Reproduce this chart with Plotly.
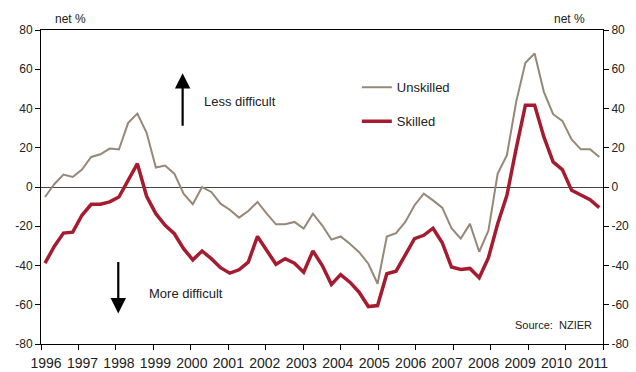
import plotly.graph_objects as go

# Quarterly survey, 1996Q1 .. 2011Q1 (net %)
quarter_index = list(range(61))
years = list(range(1996, 2012))
year_labels = [str(y) for y in years]

unskilled = [-5.1, 1.4, 6.3, 5.1, 8.9, 15.3, 16.7, 19.6, 19.1, 32.7,
             37.4, 27.6, 9.9, 10.9, 6.8, -3.4, -8.8, 0.0, -2.5, -8.5,
             -11.6, -15.6, -12.2, -7.6, -13.6, -19.0, -19.0, -17.8, -21.2, -13.6,
             -19.5, -26.8, -25.2, -28.9, -33.2, -39.1, -49.3, -25.2, -23.5, -17.8,
             -9.3, -3.4, -6.8, -10.5, -21.0, -26.3, -18.8, -33.0, -22.2, 6.8,
             16.2, 43.4, 63.3, 68.0, 48.5, 37.1, 33.7, 24.2, 19.2, 19.2,
             15.3]
skilled = [-38.8, -30.3, -23.5, -23.0, -14.4, -8.8, -8.8, -7.6, -5.1, 3.8,
           11.9, -4.7, -13.6, -19.5, -23.8, -31.4, -37.1, -32.6, -36.5, -41.1,
           -43.9, -42.2, -38.3, -25.2, -32.6, -39.4, -36.5, -38.8, -43.4, -32.6,
           -39.9, -49.6, -44.6, -48.5, -53.6, -60.9, -60.4, -44.2, -42.9, -34.3,
           -26.3, -24.6, -21.0, -28.4, -40.8, -42.0, -41.5, -46.2, -36.0, -18.7,
           -4.2, 19.6, 41.7, 41.7, 25.5, 12.8, 8.9, -1.7, -4.2, -6.5,
           -10.5]
y_ticks = list(range(-80, 81, 20))
y_tick_labels = [str(v) for v in y_ticks]

GREY = "#978777"
RED = "#a51c30"
FONT = "Liberation Sans, Arial, sans-serif"

fig = go.Figure()
fig.add_trace(go.Scatter(x=quarter_index, y=unskilled, mode="lines", name="Unskilled",
                         line=dict(color=GREY, width=2), legendgroup="u"))
fig.add_trace(go.Scatter(x=quarter_index, y=skilled, mode="lines", name="Skilled",
                         line=dict(color=RED, width=3.5), legendgroup="s"))
fig.add_trace(go.Scatter(x=[None], y=[None], yaxis="y2", showlegend=False, hoverinfo="skip"))
fig.add_trace(go.Scatter(x=[None], y=[None], xaxis="x2", showlegend=False, hoverinfo="skip"))
fig.add_trace(go.Scatter(x=[None], y=[None], xaxis="x3", showlegend=False, hoverinfo="skip"))

fig.update_layout(
    width=636, height=372,
    margin=dict(l=41, r=33, t=30, b=28, autoexpand=False),
    paper_bgcolor="white", plot_bgcolor="white",
    font=dict(family=FONT, size=12, color="#222"),
    showlegend=True,
    legend=dict(x=0.562, y=0.865, xanchor="left", yanchor="top",
                bgcolor="rgba(0,0,0,0)", font=dict(size=13, color="#222"),
                tracegroupgap=14, itemwidth=30),
    xaxis=dict(range=[-0.433, 60.40], showgrid=False, zeroline=False,
               showline=True, linecolor="#000", linewidth=1, mirror=True,
               ticks="", showticklabels=False, automargin=False),
    xaxis2=dict(overlaying="x", anchor="y", side="bottom", range=[1996, 2011],
                tickvals=years, showticklabels=False, ticks="outside", ticklen=5,
                tickcolor="#000", showgrid=False, zeroline=False, showline=False,
                automargin=False),
    xaxis3=dict(overlaying="x", anchor="y", side="bottom", range=[1995.863, 2011.273],
                tickvals=years, ticktext=year_labels, ticks="outside", ticklen=6,
                tickcolor="rgba(0,0,0,0)", showgrid=False, zeroline=False, showline=False,
                tickfont=dict(size=14, color="#222"), automargin=False),
    yaxis=dict(range=[-80, 80], tickvals=y_ticks, ticktext=y_tick_labels,
               ticks="outside", ticklen=5,
               tickcolor="#000", showgrid=False, zeroline=True, zerolinecolor="#444",
               zerolinewidth=1, showline=True, linecolor="#000", linewidth=1,
               tickfont=dict(size=12, color="#222"), automargin=False),
    yaxis2=dict(range=[-80, 80], tickvals=y_ticks, ticktext=y_tick_labels,
                ticks="outside", ticklen=5,
                tickcolor="#000", overlaying="y", side="right", showgrid=False,
                zeroline=False, showline=True, linecolor="#000", linewidth=1,
                tickfont=dict(size=12, color="#222"), automargin=False),
)

ann = [
    dict(text="net %", x=0.0214, y=1.035, xanchor="left", yanchor="middle", font=dict(size=12)),
    dict(text="net %", x=0.9715, y=1.035, xanchor="right", yanchor="middle", font=dict(size=12)),
    dict(text="Less difficult", x=0.2865, y=0.771, xanchor="left", yanchor="middle", font=dict(size=13)),
    dict(text="More difficult", x=0.1886, y=0.160, xanchor="left", yanchor="middle", font=dict(size=13)),
    dict(text="Source:  NZIER", x=0.8399, y=0.059, xanchor="left", yanchor="middle", font=dict(size=11)),
]
for a in ann:
    a.update(xref="paper", yref="paper", showarrow=False)
    fig.add_annotation(**a)

fig.add_annotation(xref="paper", yref="paper", x=0.252, y=0.8626, ax=0, ay=54,
                   axref="pixel", ayref="pixel", text="", showarrow=True,
                   arrowhead=2, arrowsize=1.4, arrowwidth=2.2, arrowcolor="#000")
fig.add_annotation(xref="paper", yref="paper", x=0.1375, y=0.0973, ax=0, ay=-53,
                   axref="pixel", ayref="pixel", text="", showarrow=True,
                   arrowhead=2, arrowsize=1.4, arrowwidth=2.2, arrowcolor="#000")

fig.write_html("out.html")
